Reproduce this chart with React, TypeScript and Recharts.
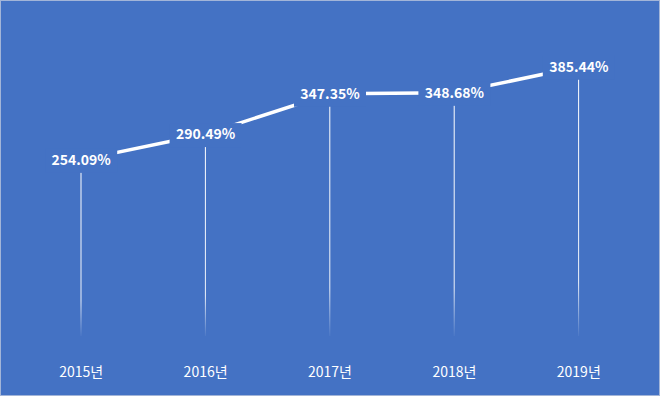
import { ComposedChart, Line, Bar, XAxis, YAxis, LabelList } from 'recharts';

const years = ['2015년', '2016년', '2017년', '2018년', '2019년'];
const rates = [254.09, 290.49, 347.35, 348.68, 385.44];

const data = years.map((year, i) => ({ year, rate: rates[i] }));

const BG = '#4472C4';
const FONT = "'Malgun Gothic', 'Noto Sans CJK KR', sans-serif";

const DropLine = (props: any) => {
  const { x, y, width, height } = props;
  const cx = x + width / 2;
  return <rect x={cx - 0.5} y={y} width={1} height={Math.max(height - 4, 0)} fill="url(#dropFade)" />;
};

const PointLabel = (props: any) => {
  const { x, y, value } = props;
  const text = `${Number(value).toFixed(2)}%`;
  return (
    <g>
      <rect x={x - 36} y={y - 11} width={72} height={24} fill={BG} />
      <text
        x={x}
        y={y + 1}
        textAnchor="middle"
        dominantBaseline="middle"
        fill="#ffffff"
        fontFamily={FONT}
        fontWeight="bold"
        fontSize={14}
      >
        {text}
      </text>
    </g>
  );
};

const YearTick = (props: any) => {
  const { x, y, payload } = props;
  return (
    <text x={x} y={y + 29} textAnchor="middle" fill="#ffffff" fontFamily={FONT} fontSize={14}>
      {payload.value}
    </text>
  );
};

export default function App() {
  return (
    <div
      style={{
        position: 'absolute',
        left: 0,
        top: 0,
        width: 660,
        height: 396,
        boxSizing: 'border-box',
        border: '1px solid #a3b5d8',
        background: BG,
      }}
    >
      <ComposedChart
        width={658}
        height={394}
        data={data}
        margin={{ top: 20, right: 18, bottom: 15, left: 18 }}
      >
        <defs>
          <linearGradient id="dropFade" x1="0" y1="0" x2="0" y2="1">
            <stop offset="0%" stopColor="#ffffff" stopOpacity={1} />
            <stop offset="80%" stopColor="#ffffff" stopOpacity={0.9} />
            <stop offset="100%" stopColor="#ffffff" stopOpacity={0.05} />
          </linearGradient>
        </defs>
        <XAxis dataKey="year" axisLine={false} tickLine={false} height={40} tick={<YearTick />} interval={0} />
        <YAxis hide domain={[0, 450]} />
        <Bar dataKey="rate" barSize={2} shape={<DropLine />} isAnimationActive={false} />
        <Line
          dataKey="rate"
          stroke="#ffffff"
          strokeWidth={3.5}
          dot={false}
          type="linear"
          isAnimationActive={false}
        >
          <LabelList dataKey="rate" content={<PointLabel />} />
        </Line>
      </ComposedChart>
    </div>
  );
}
